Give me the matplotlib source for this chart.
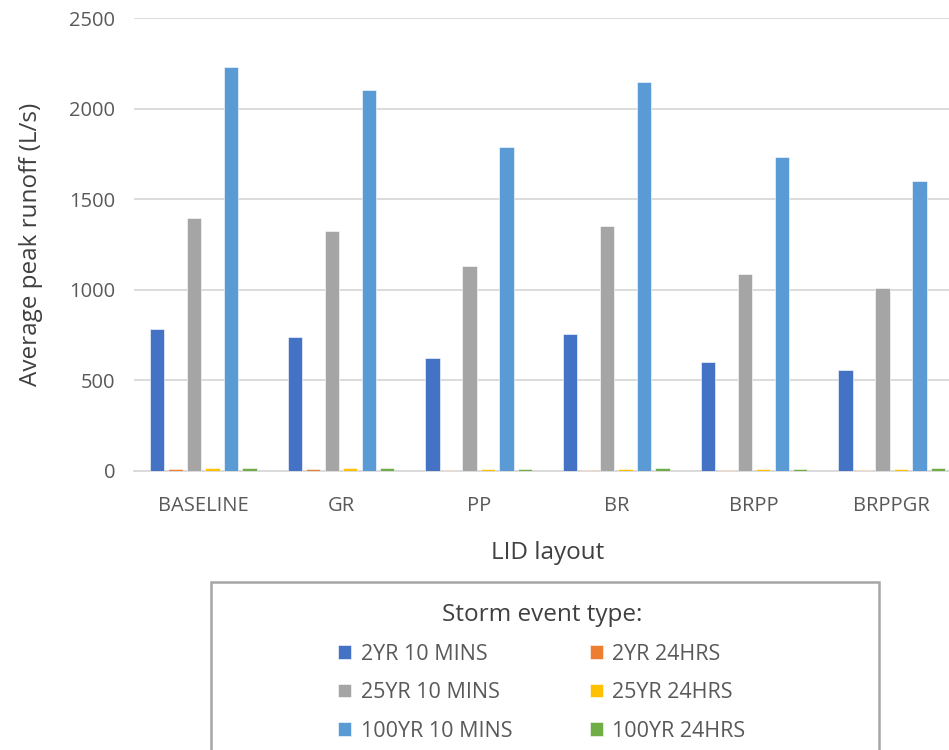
import numpy as np
import matplotlib
matplotlib.use("Agg")
import matplotlib.pyplot as plt
from matplotlib.patches import Rectangle

plt.rcParams['font.family'] = ['Open Sans', 'DejaVu Sans']

layouts = ['BASELINE', 'GR', 'PP', 'BR', 'BRPP', 'BRPPGR']
events = ['2YR 10 MINS', '2YR 24HRS', '25YR 10 MINS', '25YR 24HRS',
          '100YR 10 MINS', '100YR 24HRS']

# average peak runoff (L/s) per layout, one list per storm event
yr2_10min = [785, 739, 626, 755, 604, 556]
yr2_24hr = [10, 9, 3, 8, 3, 3]
yr25_10min = [1399, 1326, 1129, 1350, 1088, 1009]
yr25_24hr = [15, 14, 10, 12, 10, 10]
yr100_10min = [2228, 2105, 1788, 2147, 1733, 1602]
yr100_24hr = [19, 17, 12, 15, 12, 14]

series = [yr2_10min, yr2_24hr, yr25_10min, yr25_24hr, yr100_10min, yr100_24hr]
colors = ['#4472C4', '#ED7D31', '#A5A5A5', '#FFC000', '#5B9BD5', '#70AD47']

fig = plt.figure(figsize=(9.49, 7.5), dpi=100)
ax = fig.add_axes([0.1417, 0.372, 0.8705, 0.604])

x = np.arange(len(layouts))
pitch = 0.134
width = 0.104
bars = []
for i, (vals, col) in enumerate(zip(series, colors)):
    b = ax.bar(x + (i - 2.5) * pitch, vals, width, color=col,
               edgecolor='white', linewidth=0.4, zorder=3, label=events[i])
    bars.append(b)

ax.set_xlim(-0.5, len(layouts) - 0.5)
ax.set_ylim(0, 2500)
ax.set_yticks(range(0, 2501, 500))
ax.set_xticks(x)
ax.set_xticklabels(layouts)
ax.grid(axis='y', color='#d9d9d9', linewidth=1.3, zorder=0)
for s in ['top', 'right', 'left']:
    ax.spines[s].set_visible(False)
ax.spines['bottom'].set_color('#d9d9d9')
ax.spines['bottom'].set_linewidth(1.3)
ax.tick_params(axis='both', length=0, labelsize=14.5, labelcolor='#595959')
ax.tick_params(axis='x', pad=18)
ax.tick_params(axis='y', pad=14)

ax.set_ylabel('Average peak runoff (L/s)', fontsize=17.5, color='#404040',
              labelpad=19)
ax.set_xlabel('LID layout', fontsize=17.5, color='#404040', labelpad=18)

# legend box runs off the bottom of the figure
box = Rectangle((0.2225, -0.1), 0.7035, 0.324, transform=fig.transFigure,
                facecolor='white', edgecolor='#a6a6a6', linewidth=1.8,
                clip_on=False)
fig.patches.append(box)

order = [0, 2, 4, 1, 3, 5]
leg = fig.legend([bars[k] for k in order], [events[k] for k in order],
                 loc='upper center', bbox_to_anchor=(0.571, 0.222),
                 ncol=2, frameon=False, fontsize=15.5, labelcolor='#595959',
                 title='Storm event type:', title_fontsize=17.5,
                 handlelength=0.6, handleheight=0.6, handletextpad=0.45,
                 columnspacing=3.6, labelspacing=0.82)
leg.get_title().set_color('#404040')
leg._legend_box.sep = 12

fig.savefig('out.png', dpi=100)
